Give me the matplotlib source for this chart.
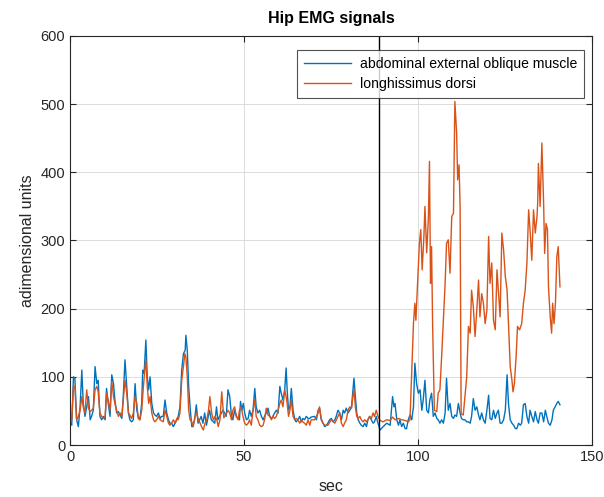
import numpy as np
import matplotlib
matplotlib.use("Agg")
import matplotlib.pyplot as plt

plt.rcParams['font.family'] = ['Liberation Sans', 'DejaVu Sans']

# abdominal external oblique muscle (blue) - time [s], value
t_abd = [0.0, 0.5, 1.0, 1.4, 1.9, 2.4, 2.9, 3.4, 3.8, 4.3, 4.8, 5.3, 5.8, 6.2, 6.7, 7.2, 7.7, 8.1, 8.6, 9.1,
         9.6, 10.1, 10.5, 11.0, 11.5, 12.0, 12.5, 12.9, 13.4, 13.9, 14.4, 14.9, 15.3, 15.8, 16.3, 16.8, 17.2, 17.7,
         18.2, 18.7, 19.2, 19.6, 20.1, 20.6, 20.9, 21.3, 21.8, 22.2, 22.6, 23.0, 23.5, 24.0, 24.4, 24.9, 25.4, 25.9,
         26.3, 26.8, 27.3, 27.8, 28.3, 28.7, 29.2, 29.7, 30.2, 30.7, 31.1, 31.6, 32.1, 32.6, 33.1, 33.3, 33.7, 34.1,
         34.5, 35.0, 35.3, 35.8, 36.3, 36.8, 37.7, 38.2, 38.7, 39.2, 40.1, 40.6, 41.6, 42.1, 42.5, 43.5, 44.0, 44.9,
         45.4, 45.9, 46.4, 46.8, 47.3, 47.8, 48.3, 48.7, 49.0, 49.4, 49.8, 50.2, 50.7, 51.2, 51.6, 52.1, 52.6, 53.1,
         53.5, 54.0, 54.5, 55.0, 55.5, 55.9, 56.4, 56.9, 57.4, 57.9, 58.3, 58.8, 59.3, 59.8, 60.3, 60.7, 61.2, 61.7,
         62.1, 62.4, 62.8, 63.2, 63.6, 64.1, 64.6, 65.0, 65.5, 66.0, 66.5, 66.9, 67.4, 67.9, 68.4, 68.9, 69.3, 70.3,
         70.8, 71.3, 71.7, 72.2, 72.7, 73.2, 73.7, 74.1, 74.6, 75.1, 75.6, 76.1, 76.5, 77.0, 77.5, 78.0, 78.5, 78.9,
         79.4, 79.9, 80.4, 80.9, 81.3, 81.6, 82.0, 82.4, 82.8, 83.3, 83.7, 84.2, 84.7, 85.2, 85.6, 86.1, 86.6, 87.1,
         87.5, 88.0, 88.5, 89.1, 90.0, 91.0, 92.0, 92.7, 93.1, 93.4, 93.9, 94.4, 94.8, 95.3, 95.8, 96.3, 96.7, 97.2,
         97.7, 98.2, 98.7, 99.1, 99.6, 100.1, 100.6, 101.1, 101.5, 102.0, 102.5, 103.0, 103.4, 103.9, 104.4, 104.9,
         105.4, 105.8, 106.3, 106.8, 107.3, 107.8, 108.2, 108.7, 109.2, 109.7, 110.2, 110.6, 111.1, 111.6, 112.1,
         112.5, 113.0, 113.5, 114.0, 114.5, 115.0, 115.4, 115.9, 116.4, 116.9, 117.4, 117.8, 118.3, 118.8, 119.3,
         119.8, 120.3, 120.7, 121.2, 121.7, 122.2, 122.7, 123.1, 123.6, 124.1, 124.6, 125.1, 125.6, 126.0, 126.5,
         127.0, 127.5, 128.0, 128.4, 128.9, 129.4, 129.8, 130.3, 130.8, 131.3, 131.8, 132.2, 132.7, 133.2, 133.7,
         134.2, 134.6, 135.1, 135.6, 136.1, 136.6, 137.0, 137.5, 138.0, 138.5, 138.9, 139.4, 139.9, 140.3, 140.8]
v_abd = [35, 29, 100, 98, 37, 27, 56, 110, 61, 42, 56, 71, 37, 42, 51, 115, 90, 95, 42, 37,
         42, 37, 83, 61, 42, 103, 90, 66, 47, 49, 44, 39, 71, 125, 86, 47, 37, 34,
         37, 90, 51, 42, 37, 61, 110, 105, 154, 100, 81, 100, 61, 47, 44, 42, 47, 39,
         42, 42, 66, 47, 37, 32, 32, 27, 32, 37, 42, 56, 110, 134, 139, 161, 139, 86,
         56, 27, 27, 37, 59, 32, 42, 32, 47, 29, 51, 37, 32, 56, 37, 47, 51, 42,
         81, 71, 42, 37, 51, 42, 39, 37, 64, 51, 61, 47, 37, 39, 51, 42, 51, 83,
         56, 47, 51, 42, 37, 42, 47, 54, 42, 39, 42, 47, 51, 47, 86, 76, 66, 81,
         113, 81, 51, 56, 83, 51, 37, 34, 37, 42, 34, 39, 37, 42, 39, 39, 41, 42,
         37, 51, 54, 37, 32, 27, 29, 32, 37, 39, 34, 37, 42, 51, 47, 37, 51, 47,
         54, 47, 51, 56, 81, 98, 71, 47, 37, 32, 29, 27, 32, 27, 37, 42, 37, 32,
         34, 42, 32, 22, 27, 32, 29, 71, 56, 61, 37, 29, 37, 27, 32, 24, 24, 37,
         44, 37, 56, 120, 90, 76, 81, 51, 66, 95, 51, 47, 66, 76, 42, 47,
         39, 37, 32, 37, 32, 47, 98, 51, 61, 42, 39, 44, 42, 61, 47,
         39, 37, 37, 34, 34, 32, 42, 68, 51, 56, 44, 37, 47, 37, 32,
         51, 73, 39, 37, 51, 39, 47, 51, 32, 32, 37, 51, 103, 61, 37,
         32, 29, 24, 24, 32, 29, 32, 59, 61, 42, 32, 51, 42, 34, 49,
         37, 32, 47, 47, 34, 51, 42, 32, 29, 37, 51, 56, 61, 64, 59]

# longhissimus dorsi (orange) - time [s], value
t_lon = [0.0, 0.5, 1.0, 1.4, 1.9, 2.4, 2.9, 3.4, 3.8, 4.3, 4.8, 5.3, 5.8, 6.2, 6.7, 7.2, 7.7, 8.1, 8.6, 9.1,
         9.6, 10.1, 10.5, 11.0, 11.5, 12.0, 12.5, 12.9, 13.4, 13.9, 14.4, 14.9, 15.3, 15.8, 16.3, 16.8, 17.2, 17.7,
         18.2, 18.7, 19.2, 19.6, 20.1, 20.6, 21.1, 21.5, 21.8, 22.2, 22.6, 23.0, 23.5, 24.0, 24.4, 24.9, 25.4, 25.9,
         26.8, 27.3, 27.8, 28.3, 28.7, 29.2, 29.7, 30.2, 30.7, 31.1, 31.6, 32.1, 32.6, 33.0, 33.3, 33.7, 34.1, 34.5,
         35.0, 35.4, 35.9, 36.4, 36.9, 37.4, 37.8, 38.3, 38.8, 39.3, 39.8, 40.2, 40.7, 41.2, 41.7, 42.2, 42.6, 43.1,
         43.6, 44.2, 44.8, 45.4, 45.9, 46.4, 46.8, 47.3, 47.8, 48.3, 48.7, 49.2, 49.7, 50.2, 50.7, 51.2, 51.6, 52.1,
         52.6, 53.1, 53.5, 54.0, 54.5, 55.0, 55.5, 55.9, 56.4, 56.9, 57.4, 57.9, 58.3, 58.8, 59.3, 59.8, 60.3, 60.7,
         61.2, 61.7, 62.1, 62.4, 62.8, 63.2, 63.6, 64.1, 64.6, 65.0, 65.5, 66.0, 66.5, 66.9, 67.4, 67.9, 68.4, 68.9,
         69.3, 70.3, 71.3, 71.7, 72.2, 72.7, 73.2, 74.1, 75.1, 76.1, 77.0, 77.5, 78.0, 78.5, 78.9, 79.4, 79.9, 80.4,
         80.9, 81.3, 81.6, 82.0, 82.4, 82.8, 83.3, 83.7, 84.2, 84.7, 85.2, 85.6, 86.1, 86.6, 87.1, 87.5, 88.0, 88.5,
         89.1, 90.0, 91.0, 92.0, 92.7, 93.4, 94.4, 95.3, 96.3, 97.2, 97.7, 98.7, 99.1, 99.4, 99.8, 100.4, 100.8,
         101.2, 101.7, 102.0, 102.5, 103.0, 103.3, 103.6, 103.9, 104.2, 104.7, 105.4, 105.8, 106.3, 106.8, 107.8,
         108.2, 108.7, 109.2, 109.7, 110.2, 110.6, 111.1, 111.4, 111.8, 112.1, 112.4, 113.0, 113.5, 114.0, 114.5,
         115.0, 115.4, 115.9, 116.4, 116.9, 117.4, 117.8, 118.3, 118.8, 119.3, 119.8, 120.3, 120.7, 121.2, 121.7,
         122.2, 122.7, 123.1, 123.6, 124.1, 124.6, 125.1, 125.6, 126.0, 126.5, 127.0, 127.3, 127.7, 128.2, 128.6,
         129.2, 129.8, 130.3, 130.8, 131.3, 131.8, 132.2, 132.7, 133.2, 133.7, 134.2, 134.4, 134.6, 135.1, 135.6,
         136.1, 136.4, 136.8, 137.2, 137.5, 138.0, 138.4, 138.7, 139.1, 139.5, 139.9, 140.3, 140.8]
v_lon = [37, 37, 86, 86, 37, 42, 51, 71, 56, 47, 81, 54, 49, 51, 54, 81, 86, 78, 47, 42,
         39, 42, 76, 64, 51, 93, 71, 61, 51, 42, 47, 42, 66, 95, 76, 47, 44, 39,
         47, 71, 61, 39, 37, 51, 86, 110, 125, 86, 61, 71, 47, 37, 34, 37, 42, 37,
         34, 51, 42, 32, 29, 32, 37, 32, 39, 37, 47, 95, 115, 134, 129, 100, 51, 37,
         34, 27, 42, 47, 37, 32, 27, 22, 32, 37, 51, 71, 47, 37, 42, 37, 27, 37,
         78, 40, 45, 51, 47, 37, 51, 56, 42, 37, 51, 56, 42, 32, 29, 32, 37, 29,
         51, 66, 42, 37, 29, 27, 29, 37, 54, 44, 42, 37, 42, 39, 42, 51, 61, 66,
         56, 81, 71, 61, 42, 51, 66, 42, 37, 39, 37, 32, 37, 34, 32, 29, 37, 29,
         37, 37, 47, 56, 39, 32, 29, 29, 37, 32, 42, 47, 32, 27, 32, 37, 51, 56,
         54, 71, 81, 56, 42, 39, 42, 37, 34, 37, 34, 37, 42, 39, 47, 42, 51, 42,
         36, 34, 37, 36, 41, 37, 39, 37, 36, 34, 37, 178, 208, 183, 227, 296, 316,
         257, 306, 350, 282, 335, 416, 237, 291, 178, 51, 49, 76, 81, 130, 237,
         296, 301, 252, 335, 340, 504, 458, 389, 411, 350, 46, 44, 71, 100, 174,
         164, 227, 203, 159, 198, 242, 188, 222, 208, 178, 198, 306, 237, 267, 183,
         169, 257, 227, 188, 311, 286, 247, 227, 179, 115, 95, 78, 90, 130, 174,
         169, 178, 208, 227, 267, 345, 316, 271, 345, 311, 335, 355, 413, 350, 443,
         355, 281, 325, 316, 232, 188, 164, 208, 178, 208, 276, 291, 232]

event_time = 88.9

fig = plt.figure(figsize=(6.04, 4.97), dpi=100)
ax = fig.add_axes([0.1159, 0.1046, 0.8642, 0.823])

ax.plot(t_abd, v_abd, color='#0072BD', lw=1.0, label='abdominal external oblique muscle')
ax.plot(t_lon, v_lon, color='#D95319', lw=1.0, label='longhissimus dorsi')
ax.axvline(event_time, color='black', lw=1.0)

ax.set_xlim(0, 150)
ax.set_ylim(0, 600)
ax.set_xticks([0, 50, 100, 150])
ax.set_yticks(np.arange(0, 601, 100))
ax.grid(True, color='#dcdcdc', lw=0.7)
ax.set_axisbelow(True)
ax.tick_params(direction='in', length=4, colors='#262626', labelsize=10.5,
               top=True, right=True)
for s in ax.spines.values():
    s.set_color('#262626')
    s.set_linewidth(0.8)

ax.set_title('Hip EMG signals', fontsize=11.5, fontweight='bold', color='black', pad=9)
ax.set_xlabel('sec', fontsize=11.5, color='#262626', labelpad=11)
ax.set_ylabel('adimensional units', fontsize=11.5, color='#262626', labelpad=4)

leg = ax.legend(loc='upper right', bbox_to_anchor=(0.9847, 0.966), fontsize=10.1,
                handlelength=3.4, frameon=True, fancybox=False, borderpad=0.5,
                labelspacing=0.45, handletextpad=0.6, borderaxespad=0)
leg.get_frame().set_edgecolor('#262626')
leg.get_frame().set_linewidth(0.8)

fig.savefig('out.png', dpi=100)
